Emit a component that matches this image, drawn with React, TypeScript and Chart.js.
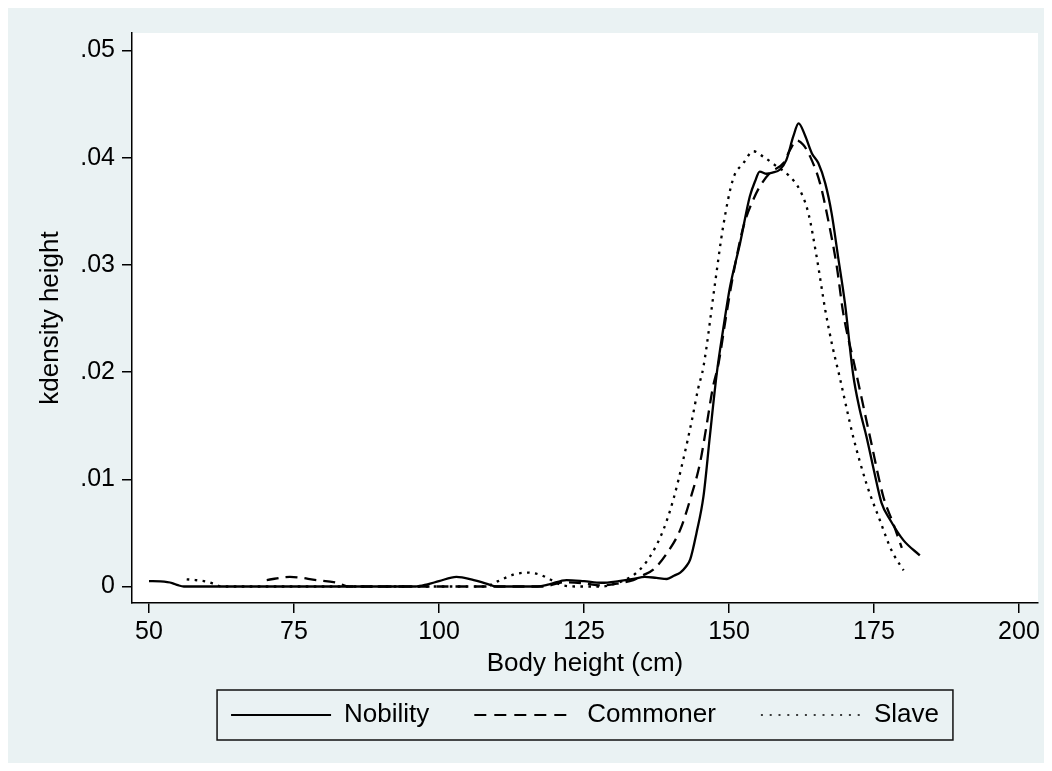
import React, { useEffect, useRef } from 'react';
import { Chart, registerables } from 'chart.js';

Chart.register(...registerables);

// ---- data ----
const seriesLabels = ['Nobility', 'Commoner', 'Slave'];

const nobilityX = [50, 52, 54, 55, 56, 60, 70, 80, 90, 96, 98, 100, 103, 106, 108, 110, 114, 117, 119, 122, 125, 128, 131, 133.5, 135.5, 137.5, 139.3, 140.5, 141.6, 142.5, 143.3, 144.4, 145.6, 146.7, 147.9, 149, 150.2, 151.9, 153.6, 154.5, 155.3, 156.5, 157.5, 158.8, 159.9, 161.1, 162, 163.1, 164.3, 165.4, 166.6, 167.7, 168.8, 170, 171.4, 172.5, 173.7, 175, 176.3, 177.8, 180.1, 182.9];
const nobilityY = [0.0005, 0.00047, 0.00032, 0.00012, 0, 0, 0, 0, 0, 0, 0.0002, 0.0005, 0.0009, 0.0006, 0.0003, 0, 0, 0, 0.0002, 0.0006, 0.0005, 0.00035, 0.0005, 0.0007, 0.0009, 0.0008, 0.0007, 0.001, 0.0013, 0.0018, 0.0025, 0.005, 0.0084, 0.014, 0.0199, 0.024, 0.028, 0.032, 0.0364, 0.0378, 0.0387, 0.0385, 0.0386, 0.0389, 0.0398, 0.042, 0.0432, 0.0421, 0.0404, 0.0395, 0.0376, 0.0348, 0.0308, 0.0264, 0.0198, 0.0166, 0.014, 0.0108, 0.0078, 0.0062, 0.0043, 0.0029];

const commonerX = [70.3, 74.3, 78.9, 82.4, 84.5, 90, 100, 110, 118, 121.5, 125, 128, 131, 133.5, 135, 137, 139.3, 141.6, 143.3, 145, 146.1, 147.2, 148.2, 149.5, 150.7, 152.5, 154.2, 155.3, 157.1, 159.4, 160.5, 161.7, 162.8, 164, 165.7, 167.1, 168.6, 169.7, 171.7, 174.3, 176.6, 178.3, 179.8];
const commonerY = [0.0006, 0.0009, 0.0006, 0.00035, 0, 0, 0, 0, 0, 0.0004, 0.0003, 0.0001, 0.0003, 0.0006, 0.001, 0.0016, 0.0031, 0.0053, 0.0081, 0.0115, 0.0149, 0.0185, 0.0208, 0.0252, 0.029, 0.0336, 0.0361, 0.0373, 0.0386, 0.0395, 0.0407, 0.0416, 0.0412, 0.0401, 0.0376, 0.0342, 0.0298, 0.0255, 0.0205, 0.014, 0.0084, 0.0059, 0.0036];

const slaveX = [56.5, 58, 60, 61.4, 62.5, 70, 80, 90, 100, 108, 110.2, 112.8, 115.1, 117.4, 119.4, 121.4, 124, 128, 130, 132, 134.1, 136.4, 138.7, 140.4, 142.1, 143.6, 144.7, 145.6, 147.6, 149, 150.7, 152.5, 154.2, 155.9, 158.2, 160.2, 162.2, 163.7, 165.1, 166.6, 167.8, 169.1, 171.4, 173.7, 176, 178, 180.1];
const slaveY = [0.00067, 0.0006, 0.00045, 0.0002, 0, 0, 0, 0, 0, 0, 0.0005, 0.0011, 0.0013, 0.0011, 0.0006, 0.0001, 0, 0, 0.0002, 0.0006, 0.0013, 0.0028, 0.0053, 0.0081, 0.0118, 0.0155, 0.0185, 0.0205, 0.0283, 0.0336, 0.038, 0.0395, 0.0406, 0.0401, 0.0392, 0.0384, 0.037, 0.0348, 0.0308, 0.0258, 0.0225, 0.0195, 0.014, 0.0096, 0.0062, 0.0034, 0.0015];

const xTicks = [50, 75, 100, 125, 150, 175, 200];
const yTicks = [0, 0.01, 0.02, 0.03, 0.04, 0.05];
const xTitle = 'Body height (cm)';
const yTitle = 'kdensity height';

const FONT = "'Liberation Sans', Arial, Helvetica, sans-serif";
const BG = '#EAF2F3';

const toPoints = (xs: number[], ys: number[]) => xs.map((x, i) => ({ x, y: ys[i] }));

const backgroundPlugin = {
  id: 'stataBackground',
  beforeDraw(chart: any) {
    const { ctx, width, height, chartArea } = chart;
    ctx.save();
    ctx.fillStyle = BG;
    ctx.fillRect(0, 0, width, height);
    ctx.fillStyle = '#FFFFFF';
    ctx.fillRect(chartArea.left, chartArea.top, chartArea.right - chartArea.left, chartArea.bottom - chartArea.top);
    ctx.restore();
  },
};

const legendFramePlugin = {
  id: 'legendFrame',
  afterDraw(chart: any) {
    const lg = chart.legend;
    if (!lg || !lg.legendHitBoxes || !lg.legendHitBoxes.length) return;
    const hb = lg.legendHitBoxes;
    const first = hb[0];
    const last = hb[hb.length - 1];
    const left = first.left - 14;
    const right = last.left + last.width + 14;
    const cy = first.top + first.height / 2;
    const ctx = chart.ctx;
    ctx.save();
    ctx.strokeStyle = '#111';
    ctx.lineWidth = 1.5;
    ctx.setLineDash([]);
    ctx.strokeRect(left, cy - 25, right - left, 50);
    ctx.restore();
  },
};

export default function App() {
  const canvasRef = useRef<HTMLCanvasElement | null>(null);

  useEffect(() => {
    document.documentElement.style.overflow = 'hidden';
    const canvas = canvasRef.current;
    if (!canvas) return;
    const lineW = 2.3;
    const chart = new Chart(canvas, {
      type: 'line',
      data: {
        datasets: [
          {
            label: seriesLabels[0],
            data: toPoints(nobilityX, nobilityY),
            borderColor: '#000',
            backgroundColor: '#000',
            borderWidth: lineW,
            borderDash: [],
            pointRadius: 0,
            cubicInterpolationMode: 'monotone',
            fill: false,
          },
          {
            label: seriesLabels[1],
            data: toPoints(commonerX, commonerY),
            borderColor: '#000',
            backgroundColor: '#000',
            borderWidth: lineW,
            borderDash: [12, 7],
            pointRadius: 0,
            cubicInterpolationMode: 'monotone',
            fill: false,
          },
          {
            label: seriesLabels[2],
            data: toPoints(slaveX, slaveY),
            borderColor: '#000',
            backgroundColor: '#000',
            borderWidth: lineW,
            borderDash: [2.6, 5.4],
            pointRadius: 0,
            cubicInterpolationMode: 'monotone',
            fill: false,
          },
        ],
      } as any,
      options: {
        animation: false,
        responsive: false,
        devicePixelRatio: 1,
        layout: { padding: { left: 0, right: 14, top: 25, bottom: 33 } },
        plugins: {
          legend: {
            position: 'bottom',
            fullSize: false,
            labels: {
              usePointStyle: true,
              pointStyle: 'line',
              pointStyleWidth: 100,
              boxHeight: 26,
              padding: 45,
              color: '#000',
              font: { family: FONT, size: 26 },
              generateLabels: (c: any) => {
                const items = (Chart.defaults.plugins.legend.labels as any).generateLabels(c);
                items.forEach((it: any, i: number) => {
                  const ds = c.data.datasets[i];
                  it.lineDash = i === 1 ? [12, 8] : i === 2 ? [2, 6.8] : [];
                  it.lineWidth = i === 2 ? 1.6 : 2;
                  it.strokeStyle = ds.borderColor;
                  it.pointStyle = 'line';
                });
                return items;
              },
            },
          },
          tooltip: { enabled: false },
        },
        scales: {
          x: {
            type: 'linear',
            min: 47.07,
            max: 203.28,
            afterBuildTicks: (s: any) => {
              s.ticks = xTicks.map((v) => ({ value: v }));
            },
            afterFit: (s: any) => {
              s.height = 54;
            },
            grid: { drawOnChartArea: false, drawTicks: true, tickLength: 10, color: '#000', lineWidth: 1.5 },
            border: { display: true, color: '#000', width: 1.5 },
            ticks: {
              color: '#000',
              font: { family: FONT, size: 25 },
              padding: 4,
              maxRotation: 0,
              autoSkip: false,
            },
            title: {
              display: true,
              text: xTitle,
              color: '#000',
              font: { family: FONT, size: 26 },
              padding: { top: 0, bottom: -22.6 },
            },
          },
          y: {
            type: 'linear',
            min: -0.00154,
            max: 0.05163,
            afterBuildTicks: (s: any) => {
              s.ticks = yTicks.map((v) => ({ value: v }));
            },
            afterFit: (s: any) => {
              s.width = 124;
            },
            grid: { drawOnChartArea: false, drawTicks: true, tickLength: 10, color: '#000', lineWidth: 1.5 },
            border: { display: true, color: '#000', width: 1.5 },
            ticks: {
              color: '#000',
              font: { family: FONT, size: 25 },
              padding: 7,
              autoSkip: false,
              callback: (v: any) => (Number(v) === 0 ? '0' : Number(v).toFixed(2).replace(/^0/, '')),
            },
            title: {
              display: true,
              text: yTitle,
              color: '#000',
              font: { family: FONT, size: 26 },
              padding: { top: 27.4, bottom: 0 },
            },
          },
        },
      } as any,
      plugins: [backgroundPlugin, legendFramePlugin],
    });
    return () => chart.destroy();
  }, []);

  return (
    <div style={{ width: 1044, height: 763, marginBottom: -8 }}>
      <canvas ref={canvasRef} width={1044} height={763} style={{ display: 'block', width: 1044, height: 763 }} />
    </div>
  );
}
